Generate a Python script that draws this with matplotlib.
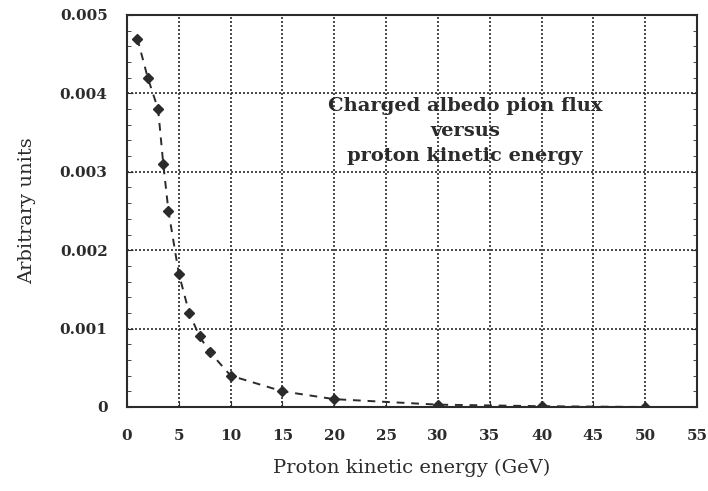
import numpy as np
import matplotlib
matplotlib.use("Agg")
import matplotlib.pyplot as plt
from matplotlib.ticker import MultipleLocator

# 数据
energy = [1, 2, 3, 3.5, 4, 5, 6, 7, 8, 10, 15, 20, 30, 40, 50]
flux = [0.0047, 0.0042, 0.0038, 0.0031, 0.0025, 0.0017, 0.0012, 0.0009,
        0.0007, 0.0004, 0.0002, 0.0001, 0.00003, 0.00001, 0.0]

x_ticks = list(range(0, 60, 5))
y_ticks = [0, 0.001, 0.002, 0.003, 0.004, 0.005]
y_labels = ["0", "0.001", "0.002", "0.003", "0.004", "0.005"]

plt.rcParams['font.family'] = ['DejaVu Serif']
ink = "#2b2b2b"

fig = plt.figure(figsize=(7.08, 4.91), dpi=100)
ax = fig.add_axes([127 / 708, 1 - 407 / 491, 570 / 708, 392 / 491])

# 曲线
ax.plot(energy, flux, linestyle=(0, (4, 3.5)), color=ink, linewidth=1.4,
        marker="D", markersize=5.5, markerfacecolor=ink, markeredgecolor=ink)

ax.set_xlim(0, 55)
ax.set_ylim(0, 0.005)
ax.set_xticks(x_ticks)
ax.set_yticks(y_ticks)
ax.set_yticklabels(y_labels)
ax.yaxis.set_minor_locator(MultipleLocator(0.0002))
ax.tick_params(axis="both", which="both", direction="in", colors=ink,
               labelsize=11, right=True, top=False)
ax.tick_params(axis="y", which="major", length=4, pad=14)
ax.tick_params(axis="y", which="minor", length=3)
ax.tick_params(axis="x", which="major", length=4, pad=16)
for lbl in ax.get_xticklabels() + ax.get_yticklabels():
    lbl.set_fontweight("bold")

# 网格
ax.grid(True, which="major", linestyle=(0, (1.2, 1.2)), color=ink, linewidth=1.2)
for s in ax.spines.values():
    s.set_color(ink)
    s.set_linewidth(1.5)

ax.set_xlabel("Proton kinetic energy (GeV)", fontsize=14, color=ink, labelpad=11)
ax.set_ylabel("Arbitrary units", fontsize=14, color=ink, labelpad=17)

ax.text(32.6, 0.00352, "Charged albedo pion flux\nversus\nproton kinetic energy",
        ha="center", va="center", fontsize=14, fontweight="bold", color=ink,
        linespacing=1.5)

plt.savefig("out.png", dpi=100)
